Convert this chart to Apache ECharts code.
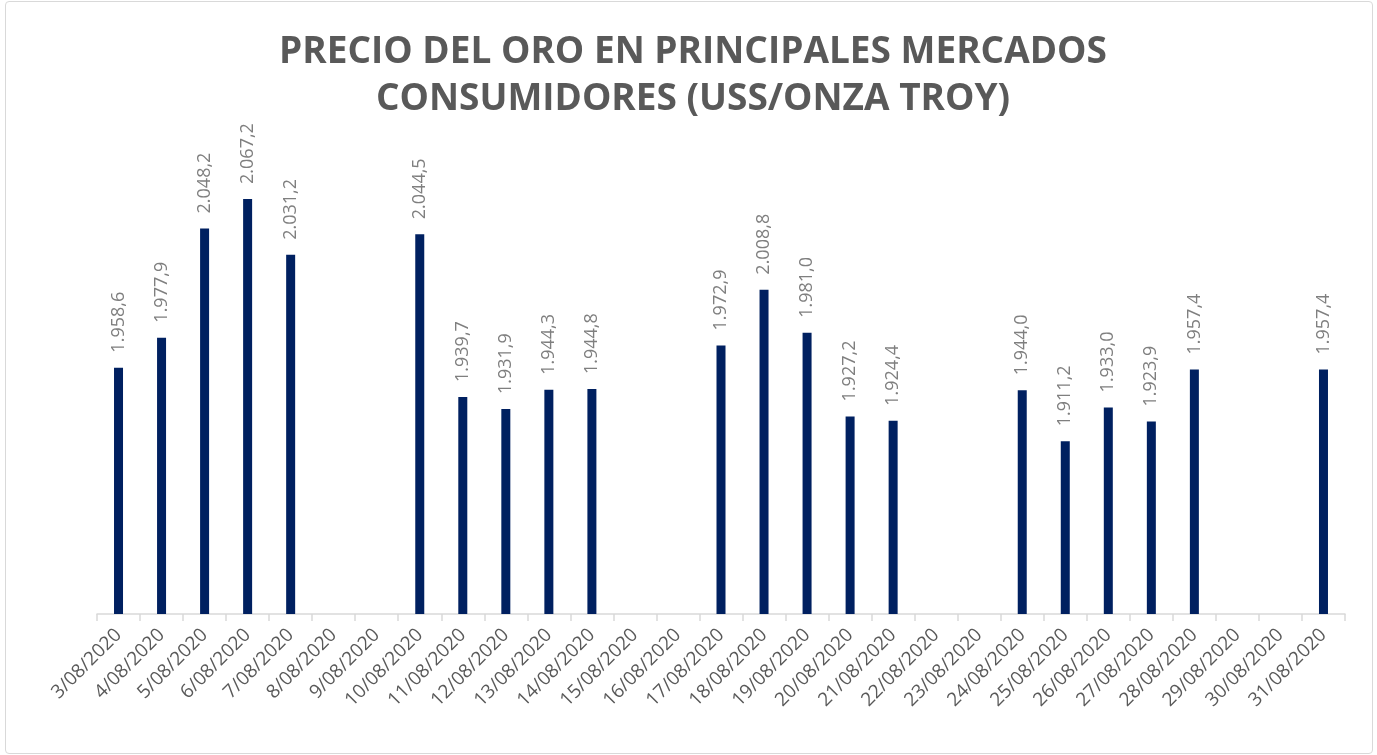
<!DOCTYPE html>
<html>
<head>
<meta charset="utf-8">
<script src="https://cdn.jsdelivr.net/npm/echarts@6/dist/echarts.min.js"></script>
<style>
  html, body { margin: 0; padding: 0; background: #fff; }
  #chart {
    position: absolute; left: 5px; top: 1px;
    width: 1366px; height: 751px;
    border: 1px solid #d9d9d9; border-radius: 4px;
  }
</style>
</head>
<body>
<div id="chart"></div>
<script>
// fechas del mes de agosto
const fechas = [
  "3/08/2020", "4/08/2020", "5/08/2020", "6/08/2020", "7/08/2020", "8/08/2020",
  "9/08/2020", "10/08/2020", "11/08/2020", "12/08/2020", "13/08/2020", "14/08/2020",
  "15/08/2020", "16/08/2020", "17/08/2020", "18/08/2020", "19/08/2020", "20/08/2020",
  "21/08/2020", "22/08/2020", "23/08/2020", "24/08/2020", "25/08/2020", "26/08/2020",
  "27/08/2020", "28/08/2020", "29/08/2020", "30/08/2020", "31/08/2020"
];
// precio del oro (null = sin cotización)
const precios = [
  1958.6, 1977.9, 2048.2, 2067.2, 2031.2, null,
  null, 2044.5, 1939.7, 1931.9, 1944.3, 1944.8,
  null, null, 1972.9, 2008.8, 1981.0, 1927.2,
  1924.4, null, null, 1944.0, 1911.2, 1933.0,
  1923.9, 1957.4, null, null, 1957.4
];

// formato 1.958,6
function formatoEs(v) {
  let partes = v.toFixed(1).split(".");
  let entero = partes[0].replace(/\B(?=(\d{3})+(?!\d))/g, ".");
  return entero + "," + partes[1];
}

let myChart = echarts.init(document.getElementById("chart"));
let option = {
  animation: false,
  title: {
    text: "PRECIO DEL ORO EN PRINCIPALES MERCADOS\nCONSUMIDORES (USS/ONZA TROY)",
    left: 682,
    top: 22,
    textAlign: "center",
    textStyle: {
      fontFamily: "Open Sans",
      fontSize: 37,
      fontWeight: "bold",
      color: "#595959",
      lineHeight: 47
    }
  },
  grid: {
    left: 91,
    right: 27,
    top: 146,
    bottom: 139
  },
  xAxis: {
    type: "category",
    data: fechas,
    axisLine: { lineStyle: { color: "#d9d9d9", width: 1.5 } },
    axisTick: { show: true, length: 7, lineStyle: { color: "#d9d9d9", width: 1.5 } },
    axisLabel: {
      rotate: 45,
      interval: 0,
      margin: 18,
      color: "#595959",
      fontFamily: "Open Sans",
      fontSize: 19
    }
  },
  yAxis: {
    type: "value",
    min: 1800,
    max: 2100,
    show: false,
    splitLine: { show: false }
  },
  series: [
    {
      type: "bar",
      data: precios,
      barWidth: 9,
      itemStyle: { color: "#002060" },
      label: {
        show: true,
        position: "top",
        rotate: 90,
        align: "left",
        verticalAlign: "middle",
        distance: 15,
        color: "#7f7f7f",
        fontFamily: "Open Sans",
        fontSize: 18,
        formatter: p => formatoEs(p.value)
      }
    }
  ]
};
myChart.setOption(option);
</script>
</body>
</html>
